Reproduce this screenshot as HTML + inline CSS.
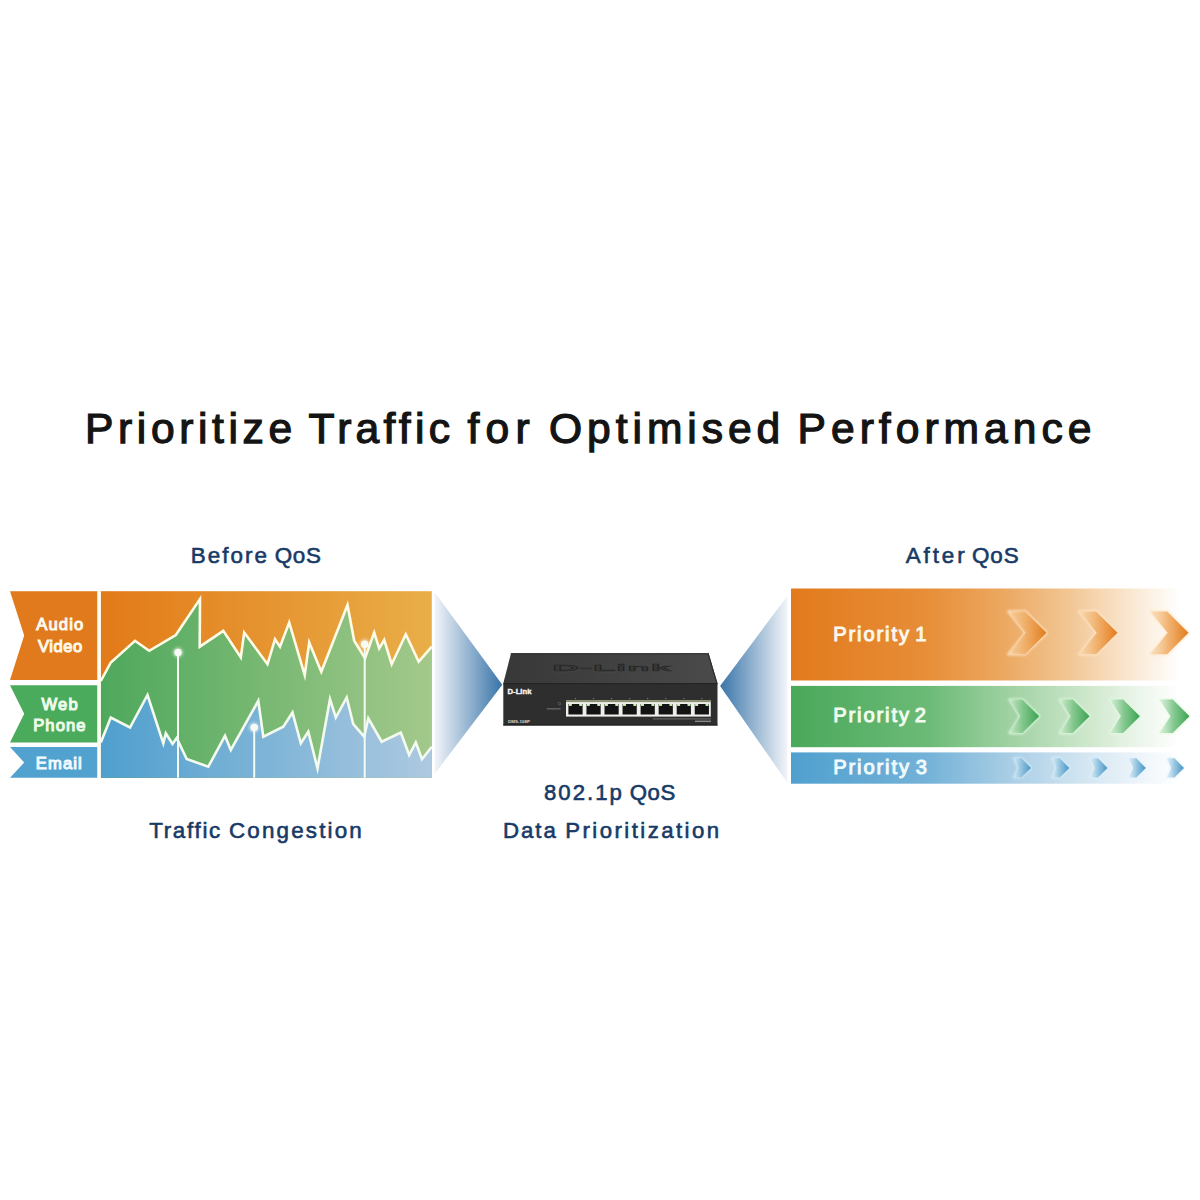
<!DOCTYPE html>
<html><head><meta charset="utf-8">
<style>
html,body{margin:0;padding:0;background:#fff;width:1200px;height:1200px;overflow:hidden}
svg{display:block}
text{font-family:"Liberation Sans",sans-serif}
</style></head>
<body>
<svg id="root" width="1200" height="1200" viewBox="0 0 1200 1200">
<defs>
  <linearGradient id="gOrL" x1="100" x2="432" y1="0" y2="0" gradientUnits="userSpaceOnUse">
    <stop offset="0" stop-color="#E27A18"/><stop offset="1" stop-color="#E9AE48"/>
  </linearGradient>
  <linearGradient id="gGrL" x1="100" x2="432" y1="0" y2="0" gradientUnits="userSpaceOnUse">
    <stop offset="0" stop-color="#4EA85C"/><stop offset="1" stop-color="#A3C98B"/>
  </linearGradient>
  <linearGradient id="gBlL" x1="100" x2="432" y1="0" y2="0" gradientUnits="userSpaceOnUse">
    <stop offset="0" stop-color="#4F9FCE"/><stop offset="1" stop-color="#ADC9E0"/>
  </linearGradient>
  <linearGradient id="gTriL" x1="434" x2="502" y1="0" y2="0" gradientUnits="userSpaceOnUse">
    <stop offset="0" stop-color="#F4F6FA"/><stop offset="1" stop-color="#3874A8"/>
  </linearGradient>
  <linearGradient id="gTriR" x1="720" x2="788" y1="0" y2="0" gradientUnits="userSpaceOnUse">
    <stop offset="0" stop-color="#3874A8"/><stop offset="1" stop-color="#F4F6FA"/>
  </linearGradient>
  <linearGradient id="gOrR" x1="791" x2="1180" y1="0" y2="0" gradientUnits="userSpaceOnUse">
    <stop offset="0" stop-color="#E27A1C"/>
    <stop offset="0.35" stop-color="#E78E38"/>
    <stop offset="0.55" stop-color="#ECA962"/>
    <stop offset="0.72" stop-color="#F2C796"/>
    <stop offset="0.88" stop-color="#FAE9D4"/>
    <stop offset="1" stop-color="#FFFFFF"/>
  </linearGradient>
  <linearGradient id="gGrR" x1="791" x2="1180" y1="0" y2="0" gradientUnits="userSpaceOnUse">
    <stop offset="0" stop-color="#4AA95B"/>
    <stop offset="0.35" stop-color="#6BBA76"/>
    <stop offset="0.55" stop-color="#9DD0A0"/>
    <stop offset="0.75" stop-color="#CBE6C9"/>
    <stop offset="0.9" stop-color="#EDF6EC"/>
    <stop offset="1" stop-color="#FFFFFF"/>
  </linearGradient>
  <linearGradient id="gBlR" x1="791" x2="1180" y1="0" y2="0" gradientUnits="userSpaceOnUse">
    <stop offset="0" stop-color="#50A0CF"/>
    <stop offset="0.35" stop-color="#74B2D8"/>
    <stop offset="0.55" stop-color="#A6CCE4"/>
    <stop offset="0.75" stop-color="#D2E5F1"/>
    <stop offset="0.9" stop-color="#EEF5FA"/>
    <stop offset="1" stop-color="#FFFFFF"/>
  </linearGradient>
  <linearGradient id="chO" x1="0" x2="1" y1="0" y2="0">
    <stop offset="0" stop-color="#F8D6A8" stop-opacity="0.6"/><stop offset="0.45" stop-color="#F0AE68" stop-opacity="0.9"/><stop offset="1" stop-color="#E37A18"/>
  </linearGradient>
  <linearGradient id="chG" x1="0" x2="1" y1="0" y2="0">
    <stop offset="0" stop-color="#C8E8C8" stop-opacity="0.6"/><stop offset="0.45" stop-color="#7CC488" stop-opacity="0.9"/><stop offset="1" stop-color="#38A24E"/>
  </linearGradient>
  <linearGradient id="chB" x1="0" x2="1" y1="0" y2="0">
    <stop offset="0" stop-color="#D0E6F2" stop-opacity="0.6"/><stop offset="0.45" stop-color="#8CC0DE" stop-opacity="0.9"/><stop offset="1" stop-color="#4594C4"/>
  </linearGradient>
  <filter id="blur2" x="-50%" y="-50%" width="200%" height="200%"><feGaussianBlur stdDeviation="1.5"/></filter>
  <filter id="blur1" x="-20%" y="-20%" width="140%" height="140%"><feGaussianBlur stdDeviation="0.9"/></filter>
</defs>

<!-- Title -->
<g font-size="42.6" fill="#141414" stroke="#141414" stroke-width="1.25">
<text x="85" y="443.3" letter-spacing="4.61">Prioritize</text>
<text x="308.5" y="443.3" letter-spacing="4.25">Traffic</text>
<text x="467.5" y="443.3" letter-spacing="6.25">for</text>
<text x="549" y="443.3" letter-spacing="4.94">Optimised</text>
<text x="797.5" y="443.3" letter-spacing="5.02">Performance</text>
</g>

<!-- Subtitles -->
<g fill="#183A67" stroke="#183A67" stroke-width="0.6" font-size="22.4">
<text x="190.75" y="563.3" letter-spacing="2.05">Before</text>
<text x="274.7" y="563.3" letter-spacing="0.75">QoS</text>
<text x="905.75" y="563.3" letter-spacing="2.89">After</text>
<text x="972" y="563.3" letter-spacing="0.9">QoS</text>
<text x="149.2" y="838.1" letter-spacing="1.68">Traffic</text>
<text x="229" y="838.1" letter-spacing="2.16">Congestion</text>
</g>
<g fill="#183A67" stroke="#183A67" stroke-width="0.6" font-size="22.2">
<text x="544" y="800.2" letter-spacing="2.0">802.1p</text>
<text x="629.7" y="800.2" letter-spacing="0.65">QoS</text>
<text x="503" y="837.8" letter-spacing="2.0">Data</text>
<text x="565.3" y="837.8" letter-spacing="2.44">Prioritization</text>
</g>

<!-- Left labels -->
<polygon points="10,591.2 97.5,591.2 97.5,680 10,680 24.2,635.6" fill="#E07A1C"/>
<polygon points="10,685.2 97.5,685.2 97.5,742.5 10,742.5 24.2,713.8" fill="#4BAB5C"/>
<polygon points="10,747.1 97.5,747.1 97.5,777.8 10,777.8 24.2,762.4" fill="#52A2CF"/>
<g fill="#FBF8EC" stroke="#FBF8EC" stroke-width="1.1" font-size="16.6">
  <text x="36.2" y="630.4" letter-spacing="1.15">Audio</text>
  <text x="37.9" y="651.7" letter-spacing="0.55">Video</text>
  <text x="41.4" y="709.6" letter-spacing="1.2" fill="#EEFBEA" stroke="#EEFBEA">Web</text>
  <text x="33.2" y="731.2" letter-spacing="1.1" fill="#EEFBEA" stroke="#EEFBEA">Phone</text>
  <text x="35.8" y="768.7" letter-spacing="1.1" fill="#F0FAFF" stroke="#F0FAFF">Email</text>
</g>

<!-- Left chart -->
<rect x="100.8" y="591.2" width="331" height="186.6" fill="url(#gOrL)"/>
<polygon id="upArea" fill="url(#gGrL)" points="100.8,777.8 100.8,681 110.8,662.5 135,640.8 149.2,650.8 175.8,635 200,599 199.7,646.7 223.3,630.8 240.8,657.5 244.2,632.5 267.5,664.2 275,639.2 280,646.7 289.2,622.5 304.7,675 309.2,642.5 321.3,671.7 347.5,605 354.2,640.8 365,658.3 374.2,632.5 379.2,648.3 384.2,640 391.7,664.2 405.8,634.2 418.7,661.7 431.8,646.7 431.8,777.8"/>
<polygon id="loArea" fill="url(#gBlL)" points="100.8,777.8 100.8,742.5 110.8,717.5 130,727.5 147.5,695 163.3,743.3 165.8,733.3 172.5,744 176.7,738 186.7,759 208.3,766.7 225,735.8 230.8,750 258.3,700.8 263.3,736.7 283.3,726.7 292.5,712.5 300.8,743.3 308.3,731.7 317.5,768.3 330,699.2 335.8,717.5 346.7,697.5 353.3,724.2 364.2,736.7 368.3,718.3 381.7,741.7 400.8,732.5 409.2,755 415.8,742.5 422,759.2 431.8,746.7 431.8,777.8"/>
<g fill="none" stroke="#FFFBE6" stroke-width="2.6" stroke-linejoin="miter" stroke-miterlimit="10">
<polyline points="100.8,681 110.8,662.5 135,640.8 149.2,650.8 175.8,635 200,599 199.7,646.7 223.3,630.8 240.8,657.5 244.2,632.5 267.5,664.2 275,639.2 280,646.7 289.2,622.5 304.7,675 309.2,642.5 321.3,671.7 347.5,605 354.2,640.8 365,658.3 374.2,632.5 379.2,648.3 384.2,640 391.7,664.2 405.8,634.2 418.7,661.7 431.8,646.7"/>
<polyline stroke="#F4FBEE" points="100.8,742.5 110.8,717.5 130,727.5 147.5,695 163.3,743.3 165.8,733.3 172.5,744 176.7,738 186.7,759 208.3,766.7 225,735.8 230.8,750 258.3,700.8 263.3,736.7 283.3,726.7 292.5,712.5 300.8,743.3 308.3,731.7 317.5,768.3 330,699.2 335.8,717.5 346.7,697.5 353.3,724.2 364.2,736.7 368.3,718.3 381.7,741.7 400.8,732.5 409.2,755 415.8,742.5 422,759.2 431.8,746.7"/>
</g>
<!-- pins -->
<g stroke="#F4FBF4" stroke-width="2">
  <line x1="178" y1="652.5" x2="178" y2="777.8"/>
  <line x1="254.2" y1="727.5" x2="254.2" y2="777.8"/>
  <line x1="364.7" y1="644.2" x2="364.7" y2="777.8"/>
</g>
<g fill="#FFFFFF" opacity="0.55" filter="url(#blur2)">
  <circle cx="178" cy="652.5" r="5"/>
  <circle cx="254.2" cy="727.5" r="5"/>
  <circle cx="364.7" cy="644.2" r="5"/>
</g>
<g fill="#F6FBF6">
  <circle cx="178" cy="652.5" r="3.7"/>
  <circle cx="254.2" cy="727.5" r="3.7"/>
  <circle cx="364.7" cy="644.2" r="3.7"/>
</g>
<!-- separator -->
<rect x="97.5" y="591.2" width="3.3" height="186.6" fill="#FFFDF2"/>

<!-- funnels -->
<polygon points="434.5,592 502.3,684.7 434.5,774" fill="url(#gTriL)"/>
<polygon points="720.1,685.9 787.5,595.7 787.5,783" fill="url(#gTriR)"/>

<!-- Switch -->
<g id="switch">
  <linearGradient id="gTop" x1="0" x2="1" y1="0" y2="0">
    <stop offset="0" stop-color="#383838"/><stop offset="1" stop-color="#4A4A4A"/>
  </linearGradient>
  <polygon points="511,653.3 708.6,653.3 717.5,683.2 503.3,683.2" fill="url(#gTop)"/>
  <polygon points="511,653.3 708.6,653.3 708.9,654.3 510.7,654.3" fill="#2A2A2A"/>
  <polygon points="708.6,653.3 717.5,683.2 716.3,683.2 707.6,654" fill="#2E2E2E"/>
  <rect x="503.3" y="683.2" width="214.2" height="42.3" fill="#2E2E2E"/>
  <rect x="503.3" y="683" width="214.2" height="1.2" fill="#242424"/>
  <rect x="503.3" y="724.3" width="214.2" height="1.2" fill="#222"/>
  <text x="612" y="672.4" font-size="12" font-weight="bold" fill="none" stroke="#5A5A5A" stroke-width="0.8" vector-effect="non-scaling-stroke" text-anchor="middle" transform="translate(612 668) scale(3.1 0.8) translate(-612 -668)" letter-spacing="0.2" opacity="0.5">D-Link</text>
  <text x="612" y="671.8" font-size="12" font-weight="bold" fill="#383838" stroke="#242424" stroke-width="1.1" vector-effect="non-scaling-stroke" text-anchor="middle" transform="translate(612 668) scale(3.1 0.8) translate(-612 -668)" letter-spacing="0.2">D-Link</text>
  <text x="507.6" y="694.5" font-size="6.4" font-weight="bold" fill="#F8F8F8" stroke="#F8F8F8" stroke-width="0.3" transform="translate(507.6 694.5) scale(1.2 1) translate(-507.6 -694.5)">D-Link</text>
  <text x="508" y="723" font-size="3.6" font-weight="bold" fill="#D8D8D8" transform="translate(508 723) scale(1.25 1) translate(-508 -723)">DMS-108P</text>
  <circle cx="559.4" cy="703.6" r="1.3" fill="none" stroke="#707070" stroke-width="0.6"/>
  <rect x="546.7" y="708.1" width="14" height="1.4" fill="#707070" opacity="0.8"/>
  <rect x="566" y="700.4" width="144.8" height="16.2" fill="#EEEEEA"/>
  <rect x="566" y="700.2" width="144.8" height="1.9" fill="#8E8E70"/>
  <rect x="568.40" y="704.0" width="14.2" height="10.5" fill="#141414"/>
  <rect x="568.80" y="703.9" width="3.0" height="2.0" fill="#D2F2BC"/>
  <rect x="579.20" y="703.9" width="3.0" height="2.0" fill="#D2F2BC"/>
  <circle cx="575.50" cy="698.6" r="0.7" fill="#8A8A7A"/>
  <rect x="586.45" y="704.0" width="14.2" height="10.5" fill="#141414"/>
  <rect x="586.85" y="703.9" width="3.0" height="2.0" fill="#D2F2BC"/>
  <rect x="597.25" y="703.9" width="3.0" height="2.0" fill="#D2F2BC"/>
  <circle cx="593.55" cy="698.6" r="0.7" fill="#8A8A7A"/>
  <rect x="604.50" y="704.0" width="14.2" height="10.5" fill="#141414"/>
  <rect x="604.90" y="703.9" width="3.0" height="2.0" fill="#D2F2BC"/>
  <rect x="615.30" y="703.9" width="3.0" height="2.0" fill="#D2F2BC"/>
  <circle cx="611.60" cy="698.6" r="0.7" fill="#8A8A7A"/>
  <rect x="622.55" y="704.0" width="14.2" height="10.5" fill="#141414"/>
  <rect x="622.95" y="703.9" width="3.0" height="2.0" fill="#D2F2BC"/>
  <rect x="633.35" y="703.9" width="3.0" height="2.0" fill="#D2F2BC"/>
  <circle cx="629.65" cy="698.6" r="0.7" fill="#8A8A7A"/>
  <rect x="640.60" y="704.0" width="14.2" height="10.5" fill="#141414"/>
  <rect x="641.00" y="703.9" width="3.0" height="2.0" fill="#D2F2BC"/>
  <rect x="651.40" y="703.9" width="3.0" height="2.0" fill="#D2F2BC"/>
  <circle cx="647.70" cy="698.6" r="0.7" fill="#8A8A7A"/>
  <rect x="658.65" y="704.0" width="14.2" height="10.5" fill="#141414"/>
  <rect x="659.05" y="703.9" width="3.0" height="2.0" fill="#D2F2BC"/>
  <rect x="669.45" y="703.9" width="3.0" height="2.0" fill="#D2F2BC"/>
  <circle cx="665.75" cy="698.6" r="0.7" fill="#8A8A7A"/>
  <rect x="676.70" y="704.0" width="14.2" height="10.5" fill="#141414"/>
  <rect x="677.10" y="703.9" width="3.0" height="2.0" fill="#D2F2BC"/>
  <rect x="687.50" y="703.9" width="3.0" height="2.0" fill="#D2F2BC"/>
  <circle cx="683.80" cy="698.6" r="0.7" fill="#8A8A7A"/>
  <rect x="694.75" y="704.0" width="14.2" height="10.5" fill="#141414"/>
  <rect x="695.15" y="703.9" width="3.0" height="2.0" fill="#D2F2BC"/>
  <rect x="705.55" y="703.9" width="3.0" height="2.0" fill="#D2F2BC"/>
  <circle cx="701.85" cy="698.6" r="0.7" fill="#8A8A7A"/>
  <rect x="653" y="718.3" width="58" height="1.2" fill="#707070" opacity="0.8"/>
  <rect x="695" y="720.6" width="16" height="1.4" fill="#A0A0A0" opacity="0.8"/>
</g>

<!-- Right bars -->
<rect x="791" y="588.5" width="409" height="92" fill="url(#gOrR)"/>
<rect x="791" y="685.9" width="409" height="61.3" fill="url(#gGrR)"/>
<rect x="791" y="752.4" width="409" height="31.3" fill="url(#gBlR)"/>
<g id="chevrons">
  <polygon points="1008.3,611.4 1025.1,611.4 1046.5,632.8 1025.1,654.2 1008.3,654.2 1025.7,632.8" fill="none" stroke="#FFE8CC" stroke-width="2.4" filter="url(#blur1)" stroke-linejoin="round" opacity="0.85"/>
  <polygon points="1008.3,611.4 1025.1,611.4 1046.5,632.8 1025.1,654.2 1008.3,654.2 1025.7,632.8" fill="url(#chO)"/>
  <polygon points="1079.3,611.4 1096.1,611.4 1117.5,632.8 1096.1,654.2 1079.3,654.2 1096.7,632.8" fill="none" stroke="#FFE8CC" stroke-width="2.4" filter="url(#blur1)" stroke-linejoin="round" opacity="0.85"/>
  <polygon points="1079.3,611.4 1096.1,611.4 1117.5,632.8 1096.1,654.2 1079.3,654.2 1096.7,632.8" fill="url(#chO)"/>
  <polygon points="1150.3,611.4 1167.1,611.4 1188.5,632.8 1167.1,654.2 1150.3,654.2 1167.7,632.8" fill="none" stroke="#FFE8CC" stroke-width="2.4" filter="url(#blur1)" stroke-linejoin="round" opacity="0.85"/>
  <polygon points="1150.3,611.4 1167.1,611.4 1188.5,632.8 1167.1,654.2 1150.3,654.2 1167.7,632.8" fill="url(#chO)"/>
  <polygon points="1009.4,699.5 1022.4,699.5 1039.2,716.3 1022.4,733.1 1009.4,733.1 1020.2,716.3" fill="none" stroke="#E2FBE2" stroke-width="2.2" filter="url(#blur1)" stroke-linejoin="round" opacity="0.85"/>
  <polygon points="1009.4,699.5 1022.4,699.5 1039.2,716.3 1022.4,733.1 1009.4,733.1 1020.2,716.3" fill="url(#chG)"/>
  <polygon points="1059.8,699.5 1072.8,699.5 1089.6,716.3 1072.8,733.1 1059.8,733.1 1070.6,716.3" fill="none" stroke="#E2FBE2" stroke-width="2.2" filter="url(#blur1)" stroke-linejoin="round" opacity="0.85"/>
  <polygon points="1059.8,699.5 1072.8,699.5 1089.6,716.3 1072.8,733.1 1059.8,733.1 1070.6,716.3" fill="url(#chG)"/>
  <polygon points="1110.1,699.5 1123.1,699.5 1139.9,716.3 1123.1,733.1 1110.1,733.1 1120.9,716.3" fill="none" stroke="#E2FBE2" stroke-width="2.2" filter="url(#blur1)" stroke-linejoin="round" opacity="0.85"/>
  <polygon points="1110.1,699.5 1123.1,699.5 1139.9,716.3 1123.1,733.1 1110.1,733.1 1120.9,716.3" fill="url(#chG)"/>
  <polygon points="1159.7,699.5 1172.7,699.5 1189.5,716.3 1172.7,733.1 1159.7,733.1 1170.5,716.3" fill="none" stroke="#E2FBE2" stroke-width="2.2" filter="url(#blur1)" stroke-linejoin="round" opacity="0.85"/>
  <polygon points="1159.7,699.5 1172.7,699.5 1189.5,716.3 1172.7,733.1 1159.7,733.1 1170.5,716.3" fill="url(#chG)"/>
  <polygon points="1013.9,758.3 1021.4,758.3 1031.0,767.9 1021.4,777.5 1013.9,777.5 1018.2,767.9" fill="none" stroke="#E4F4FF" stroke-width="1.6" filter="url(#blur1)" stroke-linejoin="round" opacity="0.85"/>
  <polygon points="1013.9,758.3 1021.4,758.3 1031.0,767.9 1021.4,777.5 1013.9,777.5 1018.2,767.9" fill="url(#chB)"/>
  <polygon points="1052.3,758.3 1059.8,758.3 1069.4,767.9 1059.8,777.5 1052.3,777.5 1056.6,767.9" fill="none" stroke="#E4F4FF" stroke-width="1.6" filter="url(#blur1)" stroke-linejoin="round" opacity="0.85"/>
  <polygon points="1052.3,758.3 1059.8,758.3 1069.4,767.9 1059.8,777.5 1052.3,777.5 1056.6,767.9" fill="url(#chB)"/>
  <polygon points="1090.5,758.3 1098.0,758.3 1107.6,767.9 1098.0,777.5 1090.5,777.5 1094.8,767.9" fill="none" stroke="#E4F4FF" stroke-width="1.6" filter="url(#blur1)" stroke-linejoin="round" opacity="0.85"/>
  <polygon points="1090.5,758.3 1098.0,758.3 1107.6,767.9 1098.0,777.5 1090.5,777.5 1094.8,767.9" fill="url(#chB)"/>
  <polygon points="1128.8,758.3 1136.3,758.3 1145.9,767.9 1136.3,777.5 1128.8,777.5 1133.1,767.9" fill="none" stroke="#E4F4FF" stroke-width="1.6" filter="url(#blur1)" stroke-linejoin="round" opacity="0.85"/>
  <polygon points="1128.8,758.3 1136.3,758.3 1145.9,767.9 1136.3,777.5 1128.8,777.5 1133.1,767.9" fill="url(#chB)"/>
  <polygon points="1166.9,758.3 1174.4,758.3 1184.0,767.9 1174.4,777.5 1166.9,777.5 1171.2,767.9" fill="none" stroke="#E4F4FF" stroke-width="1.6" filter="url(#blur1)" stroke-linejoin="round" opacity="0.85"/>
  <polygon points="1166.9,758.3 1174.4,758.3 1184.0,767.9 1174.4,777.5 1166.9,777.5 1171.2,767.9" fill="url(#chB)"/>
</g>
<g fill="#FBF8EE" stroke="#FBF8EE" stroke-width="1.0" font-size="20.2">
  <text x="833.2" y="640.9" letter-spacing="1.86">Priority</text>
  <text x="915.3" y="640.9">1</text>
  <g fill="#F2FCEE" stroke="#F2FCEE">
  <text x="833.2" y="721.6" letter-spacing="1.86">Priority</text>
  <text x="914.7" y="721.6">2</text>
  </g>
  <g fill="#F0FAFE" stroke="#F0FAFE">
  <text x="833.2" y="773.9" letter-spacing="1.86">Priority</text>
  <text x="915.7" y="773.9">3</text>
  </g>
</g>

</svg>
</body></html>
